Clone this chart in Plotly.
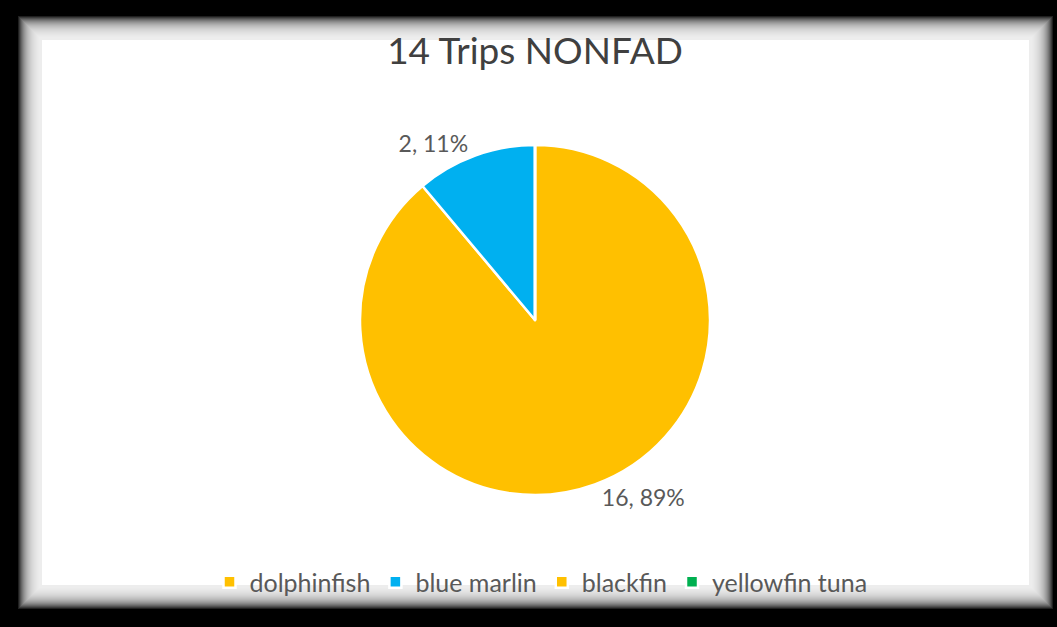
"""Pie chart: catch composition for 14 non-FAD trips."""
import plotly.graph_objects as go

# Data
species = ["dolphinfish", "blue marlin", "blackfin", "yellowfin tuna"]
counts = [16, 2, 0, 0]
colors = ["#FFC000", "#00B0F0", "#FFC000", "#00B050"]

W, H = 1057, 627
FONT = "Lato, 'Open Sans', sans-serif"
TEXT = "#595959"

# label "value, percent" only on non-empty slices (Excel hides zero slices)
templates = ["%{value}, %{percent:.0%}" if c else "" for c in counts]

fig = go.Figure(
    go.Pie(
        labels=species,
        values=counts,
        sort=False,
        direction="clockwise",
        rotation=0,
        marker=dict(colors=colors, line=dict(color="white", width=2.5)),
        texttemplate=templates,
        textposition="outside",
        textfont=dict(size=23, color=TEXT, family=FONT),
        domain=dict(x=[360 / W, 710 / W], y=[1 - 495 / H, 1 - 145 / H]),
        hoverinfo="label+value+percent",
        showlegend=True,
    )
)

# black frame with a soft white "glow" card inside
shapes = []
n = 22
for i in range(n):
    pad = n - i
    shapes.append(dict(
        type="rect", xref="paper", yref="paper", layer="below",
        x0=(40 - pad) / W, x1=(1031 + pad) / W,
        y0=1 - (587 + pad) / H, y1=1 - (38 - pad) / H,
        fillcolor="white", opacity=0.12, line=dict(width=0),
    ))
shapes.append(dict(
    type="rect", xref="paper", yref="paper", layer="below",
    x0=42 / W, x1=1029 / W, y0=1 - 585 / H, y1=1 - 40 / H,
    fillcolor="white", line=dict(width=0),
))

fig.update_layout(
    width=W, height=H,
    paper_bgcolor="black", plot_bgcolor="black",
    margin=dict(l=0, r=0, t=0, b=0),
    shapes=shapes,
    title=dict(
        text="14 Trips NONFAD", x=535 / W, xanchor="center",
        y=1 - 51 / H, yanchor="middle",
        font=dict(size=37, color="#404040", family=FONT),
    ),
    legend=dict(
        orientation="h", x=541 / W, xanchor="center",
        y=1 - 582 / H, yanchor="middle",
        font=dict(size=25, color=TEXT, family=FONT),
        bgcolor="rgba(0,0,0,0)",
    ),
)

# drop the browser's default body margin so the figure sits at the page corner
fig.write_html(
    "out.html",
    config={"displayModeBar": False},
    post_script="document.body.style.margin='0';",
)
